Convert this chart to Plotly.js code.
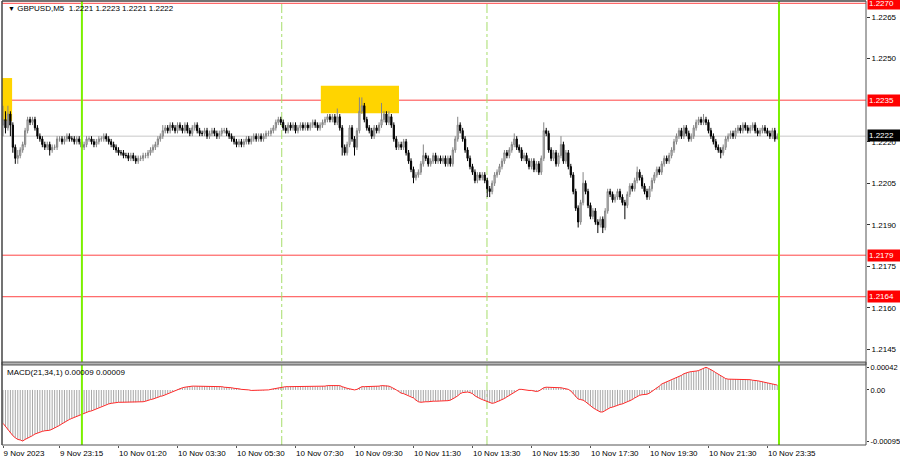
<!DOCTYPE html>
<html>
<head>
<meta charset="utf-8">
<script src="https://cdn.plot.ly/plotly-3.0.1.min.js"></script>
<style>
html,body{margin:0;padding:0;background:#fff;}
#chart{width:900px;height:460px;}
</style>
</head>
<body>
<div id="chart"></div>
<script>
// ---- Candle data (GBPUSD M5) ----
const openP = [1.2226,1.2228,1.2225,1.2230,1.2226,1.2218,1.2214,1.2215,1.2217,1.2219,
1.2224,1.2228,1.2227,1.2228,1.2225,1.2222,1.2221,1.2219,1.2218,1.2219,
1.2217,1.2218,1.2218,1.2221,1.2221,1.2220,1.2221,1.2222,1.2221,1.2221,
1.2220,1.2221,1.2220,1.2218,1.2219,1.2221,1.2221,1.2220,1.2219,1.2220,
1.2221,1.2221,1.2222,1.2221,1.2220,1.2219,1.2218,1.2217,1.2216,1.2216,
1.2215,1.2215,1.2214,1.2215,1.2214,1.2213,1.2214,1.2214,1.2215,1.2215,
1.2216,1.2217,1.2218,1.2219,1.2221,1.2222,1.2224,1.2225,1.2224,1.2226,
1.2225,1.2224,1.2226,1.2225,1.2224,1.2226,1.2224,1.2223,1.2225,1.2226,
1.2224,1.2223,1.2223,1.2224,1.2222,1.2223,1.2224,1.2223,1.2222,1.2223,
1.2224,1.2224,1.2223,1.2222,1.2221,1.2220,1.2219,1.2220,1.2219,1.2220,
1.2221,1.2220,1.2221,1.2222,1.2221,1.2222,1.2221,1.2222,1.2223,1.2223,
1.2224,1.2225,1.2227,1.2228,1.2227,1.2225,1.2224,1.2226,1.2225,1.2226,
1.2224,1.2225,1.2226,1.2225,1.2226,1.2225,1.2226,1.2227,1.2226,1.2225,
1.2226,1.2227,1.2228,1.2229,1.2228,1.2229,1.2227,1.2229,1.2225,1.2218,
1.2216,1.2219,1.2225,1.2221,1.2218,1.2224,1.2231,1.2233,1.2228,1.2225,
1.2224,1.2222,1.2225,1.2224,1.2226,1.2228,1.2230,1.2227,1.2229,1.2226,
1.2221,1.2218,1.2219,1.2218,1.2220,1.2216,1.2213,1.2210,1.2207,1.2208,
1.2209,1.2212,1.2215,1.2214,1.2212,1.2213,1.2215,1.2213,1.2214,1.2213,
1.2214,1.2212,1.2214,1.2212,1.2217,1.2221,1.2226,1.2224,1.2221,1.2217,
1.2214,1.2211,1.2209,1.2206,1.2208,1.2207,1.2208,1.2206,1.2203,1.2202,
1.2205,1.2208,1.2209,1.2211,1.2213,1.2216,1.2215,1.2217,1.2219,1.2221,
1.2218,1.2217,1.2214,1.2215,1.2213,1.2211,1.2213,1.2210,1.2212,1.2209,
1.2214,1.2224,1.2223,1.2217,1.2214,1.2216,1.2212,1.2215,1.2219,1.2213,
1.2216,1.2211,1.2208,1.2202,1.2196,1.2191,1.2198,1.2205,1.2202,1.2197,
1.2193,1.2195,1.2191,1.2190,1.2192,1.2189,1.2195,1.2202,1.2201,1.2199,
1.2200,1.2202,1.2200,1.2198,1.2197,1.2201,1.2204,1.2203,1.2206,1.2209,
1.2207,1.2204,1.2202,1.2200,1.2203,1.2206,1.2208,1.2210,1.2209,1.2212,
1.2214,1.2213,1.2215,1.2217,1.2220,1.2222,1.2224,1.2222,1.2225,1.2223,
1.2221,1.2222,1.2225,1.2227,1.2228,1.2227,1.2228,1.2227,1.2224,1.2222,
1.2220,1.2218,1.2217,1.2216,1.2218,1.2221,1.2222,1.2223,1.2222,1.2224,
1.2225,1.2224,1.2226,1.2225,1.2224,1.2225,1.2226,1.2224,1.2223,1.2224,
1.2225,1.2224,1.2223,1.2222,1.2224,1.2221];

const highP = [1.2233,1.2231,1.2233,1.2231,1.2227,1.2219,1.2217,1.2218,1.2220,1.2225,
1.2229,1.2229,1.2229,1.2229,1.2226,1.2223,1.2222,1.2220,1.2220,1.2220,
1.2219,1.2219,1.2222,1.2222,1.2222,1.2222,1.2223,1.2223,1.2222,1.2222,
1.2222,1.2222,1.2221,1.2220,1.2222,1.2222,1.2222,1.2221,1.2221,1.2222,
1.2222,1.2223,1.2223,1.2222,1.2221,1.2220,1.2219,1.2218,1.2217,1.2217,
1.2216,1.2216,1.2216,1.2216,1.2215,1.2215,1.2215,1.2216,1.2216,1.2217,
1.2218,1.2219,1.2220,1.2222,1.2223,1.2226,1.2226,1.2226,1.2227,1.2227,
1.2226,1.2227,1.2227,1.2226,1.2227,1.2227,1.2225,1.2226,1.2227,1.2227,
1.2225,1.2224,1.2225,1.2225,1.2224,1.2225,1.2225,1.2224,1.2224,1.2225,
1.2225,1.2225,1.2224,1.2223,1.2222,1.2221,1.2221,1.2221,1.2221,1.2222,
1.2222,1.2222,1.2223,1.2223,1.2223,1.2223,1.2223,1.2224,1.2224,1.2225,
1.2226,1.2228,1.2229,1.2229,1.2228,1.2226,1.2227,1.2227,1.2227,1.2227,
1.2226,1.2227,1.2227,1.2227,1.2227,1.2227,1.2228,1.2228,1.2227,1.2227,
1.2228,1.2229,1.2230,1.2230,1.2230,1.2230,1.2232,1.2230,1.2226,1.2219,
1.2220,1.2226,1.2226,1.2222,1.2225,1.2236,1.2236,1.2234,1.2229,1.2226,
1.2225,1.2226,1.2226,1.2227,1.2234,1.2231,1.2231,1.2231,1.2230,1.2227,
1.2222,1.2220,1.2220,1.2221,1.2221,1.2217,1.2214,1.2211,1.2209,1.2210,
1.2213,1.2219,1.2216,1.2215,1.2214,1.2216,1.2216,1.2215,1.2215,1.2215,
1.2215,1.2215,1.2215,1.2218,1.2222,1.2229,1.2227,1.2225,1.2222,1.2218,
1.2215,1.2212,1.2210,1.2209,1.2209,1.2209,1.2209,1.2207,1.2204,1.2206,
1.2209,1.2210,1.2212,1.2214,1.2217,1.2217,1.2218,1.2220,1.2223,1.2222,
1.2219,1.2218,1.2216,1.2216,1.2214,1.2214,1.2214,1.2213,1.2213,1.2215,
1.2227,1.2225,1.2224,1.2218,1.2217,1.2217,1.2216,1.2222,1.2220,1.2217,
1.2217,1.2212,1.2209,1.2203,1.2197,1.2199,1.2209,1.2206,1.2203,1.2198,
1.2196,1.2196,1.2192,1.2193,1.2193,1.2196,1.2203,1.2203,1.2202,1.2201,
1.2203,1.2203,1.2201,1.2199,1.2202,1.2205,1.2205,1.2207,1.2211,1.2210,
1.2208,1.2205,1.2203,1.2204,1.2207,1.2209,1.2211,1.2211,1.2213,1.2215,
1.2215,1.2216,1.2218,1.2221,1.2223,1.2225,1.2225,1.2226,1.2226,1.2224,
1.2223,1.2226,1.2228,1.2229,1.2229,1.2230,1.2229,1.2228,1.2225,1.2223,
1.2221,1.2219,1.2218,1.2219,1.2222,1.2223,1.2224,1.2224,1.2225,1.2226,
1.2226,1.2227,1.2227,1.2226,1.2226,1.2227,1.2227,1.2225,1.2225,1.2226,
1.2226,1.2225,1.2224,1.2225,1.2225,1.2223];

const lowP = [1.2222,1.2223,1.2224,1.2222,1.2216,1.2212,1.2212,1.2214,1.2216,1.2218,
1.2223,1.2226,1.2226,1.2224,1.2221,1.2220,1.2218,1.2217,1.2217,1.2215,
1.2216,1.2217,1.2217,1.2220,1.2219,1.2219,1.2220,1.2220,1.2220,1.2219,
1.2219,1.2219,1.2217,1.2217,1.2218,1.2220,1.2219,1.2218,1.2218,1.2219,
1.2220,1.2220,1.2220,1.2219,1.2218,1.2217,1.2216,1.2215,1.2215,1.2214,
1.2214,1.2213,1.2213,1.2213,1.2212,1.2212,1.2213,1.2213,1.2214,1.2214,
1.2215,1.2216,1.2217,1.2218,1.2220,1.2221,1.2223,1.2223,1.2223,1.2224,
1.2223,1.2223,1.2224,1.2223,1.2223,1.2223,1.2222,1.2222,1.2224,1.2223,
1.2222,1.2222,1.2222,1.2221,1.2221,1.2222,1.2222,1.2221,1.2221,1.2222,
1.2223,1.2222,1.2221,1.2220,1.2219,1.2218,1.2218,1.2218,1.2218,1.2219,
1.2219,1.2219,1.2220,1.2220,1.2220,1.2220,1.2220,1.2221,1.2222,1.2222,
1.2223,1.2224,1.2226,1.2226,1.2224,1.2223,1.2223,1.2224,1.2224,1.2223,
1.2223,1.2224,1.2224,1.2224,1.2224,1.2224,1.2225,1.2225,1.2224,1.2224,
1.2225,1.2226,1.2227,1.2227,1.2227,1.2226,1.2226,1.2224,1.2215,1.2215,
1.2215,1.2218,1.2220,1.2215,1.2217,1.2223,1.2230,1.2227,1.2224,1.2223,
1.2221,1.2221,1.2223,1.2223,1.2225,1.2227,1.2226,1.2226,1.2225,1.2220,
1.2217,1.2217,1.2217,1.2217,1.2215,1.2212,1.2209,1.2205,1.2206,1.2207,
1.2208,1.2211,1.2213,1.2211,1.2211,1.2212,1.2212,1.2212,1.2212,1.2212,
1.2211,1.2211,1.2211,1.2211,1.2216,1.2220,1.2223,1.2220,1.2216,1.2213,
1.2210,1.2208,1.2205,1.2205,1.2206,1.2206,1.2205,1.2200,1.2200,1.2201,
1.2204,1.2207,1.2208,1.2210,1.2212,1.2214,1.2214,1.2216,1.2218,1.2217,
1.2216,1.2213,1.2213,1.2212,1.2210,1.2210,1.2209,1.2209,1.2208,1.2208,
1.2213,1.2222,1.2216,1.2213,1.2213,1.2211,1.2211,1.2214,1.2212,1.2212,
1.2210,1.2207,1.2201,1.2195,1.2189,1.2190,1.2197,1.2201,1.2196,1.2192,
1.2192,1.2190,1.2187,1.2189,1.2187,1.2188,1.2194,1.2200,1.2198,1.2198,
1.2199,1.2199,1.2197,1.2192,1.2196,1.2200,1.2202,1.2202,1.2205,1.2206,
1.2203,1.2201,1.2199,1.2199,1.2202,1.2205,1.2207,1.2208,1.2208,1.2211,
1.2212,1.2212,1.2214,1.2216,1.2219,1.2221,1.2221,1.2221,1.2222,1.2220,
1.2220,1.2221,1.2224,1.2226,1.2226,1.2226,1.2226,1.2223,1.2221,1.2219,
1.2217,1.2216,1.2214,1.2215,1.2217,1.2220,1.2221,1.2221,1.2221,1.2223,
1.2223,1.2223,1.2224,1.2223,1.2223,1.2224,1.2223,1.2222,1.2222,1.2223,
1.2223,1.2222,1.2221,1.2221,1.2220,1.2221];

const closeP = [1.2228,1.2225,1.2230,1.2226,1.2218,1.2214,1.2215,1.2217,1.2219,1.2224,
1.2228,1.2227,1.2228,1.2225,1.2222,1.2221,1.2219,1.2218,1.2219,1.2217,
1.2218,1.2218,1.2221,1.2221,1.2220,1.2221,1.2222,1.2221,1.2221,1.2220,
1.2221,1.2220,1.2218,1.2219,1.2221,1.2221,1.2220,1.2219,1.2220,1.2221,
1.2221,1.2222,1.2221,1.2220,1.2219,1.2218,1.2217,1.2216,1.2216,1.2215,
1.2215,1.2214,1.2215,1.2214,1.2213,1.2214,1.2214,1.2215,1.2215,1.2216,
1.2217,1.2218,1.2219,1.2221,1.2222,1.2224,1.2225,1.2224,1.2226,1.2225,
1.2224,1.2226,1.2225,1.2224,1.2226,1.2224,1.2223,1.2225,1.2226,1.2224,
1.2223,1.2223,1.2224,1.2222,1.2223,1.2224,1.2223,1.2222,1.2223,1.2224,
1.2224,1.2223,1.2222,1.2221,1.2220,1.2219,1.2220,1.2219,1.2220,1.2221,
1.2220,1.2221,1.2222,1.2221,1.2222,1.2221,1.2222,1.2223,1.2223,1.2224,
1.2225,1.2227,1.2228,1.2227,1.2225,1.2224,1.2226,1.2225,1.2226,1.2224,
1.2225,1.2226,1.2225,1.2226,1.2225,1.2226,1.2227,1.2226,1.2225,1.2226,
1.2227,1.2228,1.2229,1.2228,1.2229,1.2227,1.2229,1.2225,1.2218,1.2216,
1.2219,1.2225,1.2221,1.2218,1.2224,1.2231,1.2233,1.2228,1.2225,1.2224,
1.2222,1.2225,1.2224,1.2226,1.2228,1.2230,1.2227,1.2229,1.2226,1.2221,
1.2218,1.2219,1.2218,1.2220,1.2216,1.2213,1.2210,1.2207,1.2208,1.2209,
1.2212,1.2215,1.2214,1.2212,1.2213,1.2215,1.2213,1.2214,1.2213,1.2214,
1.2212,1.2214,1.2212,1.2217,1.2221,1.2226,1.2224,1.2221,1.2217,1.2214,
1.2211,1.2209,1.2206,1.2208,1.2207,1.2208,1.2206,1.2203,1.2202,1.2205,
1.2208,1.2209,1.2211,1.2213,1.2216,1.2215,1.2217,1.2219,1.2221,1.2218,
1.2217,1.2214,1.2215,1.2213,1.2211,1.2213,1.2210,1.2212,1.2209,1.2214,
1.2224,1.2223,1.2217,1.2214,1.2216,1.2212,1.2215,1.2219,1.2213,1.2216,
1.2211,1.2208,1.2202,1.2196,1.2191,1.2198,1.2205,1.2202,1.2197,1.2193,
1.2195,1.2191,1.2190,1.2192,1.2189,1.2195,1.2202,1.2201,1.2199,1.2200,
1.2202,1.2200,1.2198,1.2197,1.2201,1.2204,1.2203,1.2206,1.2209,1.2207,
1.2204,1.2202,1.2200,1.2203,1.2206,1.2208,1.2210,1.2209,1.2212,1.2214,
1.2213,1.2215,1.2217,1.2220,1.2222,1.2224,1.2222,1.2225,1.2223,1.2221,
1.2222,1.2225,1.2227,1.2228,1.2227,1.2228,1.2227,1.2224,1.2222,1.2220,
1.2218,1.2217,1.2216,1.2218,1.2221,1.2222,1.2223,1.2222,1.2224,1.2225,
1.2224,1.2226,1.2225,1.2224,1.2225,1.2226,1.2224,1.2223,1.2224,1.2225,
1.2224,1.2223,1.2222,1.2224,1.2221,1.2222];

// ---- MACD(21,34,1) main line values ----
const macdVals = [-0.00062,-0.00068,-0.00074,-0.00080,-0.00085,-0.00089,-0.00092,-0.00093,-0.00095,-0.00092,
-0.00090,-0.00087,-0.00085,-0.00082,-0.00080,-0.00078,-0.00077,-0.00076,-0.00076,-0.00075,
-0.00073,-0.00071,-0.00068,-0.00066,-0.00063,-0.00060,-0.00058,-0.00055,-0.00053,-0.00051,
-0.00049,-0.00047,-0.00045,-0.00044,-0.00042,-0.00040,-0.00039,-0.00037,-0.00035,-0.00033,
-0.00031,-0.00029,-0.00027,-0.00026,-0.00025,-0.00024,-0.00023,-0.00023,-0.00023,-0.00023,
-0.00023,-0.00023,-0.00023,-0.00023,-0.00023,-0.00022,-0.00022,-0.00022,-0.00021,-0.00019,
-0.00018,-0.00017,-0.00015,-0.00014,-0.00012,-0.00011,-0.00009,-0.00007,-0.00005,-0.00003,
-0.00001,0.00001,0.00003,0.00004,0.00005,0.00006,0.00006,0.00007,0.00007,0.00007,
0.00007,0.00007,0.00007,0.00007,0.00007,0.00006,0.00006,0.00006,0.00006,0.00006,
0.00005,0.00005,0.00004,0.00004,0.00003,0.00003,0.00002,0.00001,0.00001,0.00000,
0.00000,-0.00001,-0.00001,-0.00001,-0.00001,-0.00001,-0.00001,0.00000,0.00000,0.00001,
0.00002,0.00003,0.00004,0.00005,0.00005,0.00006,0.00006,0.00006,0.00006,0.00007,
0.00007,0.00007,0.00007,0.00006,0.00007,0.00006,0.00006,0.00006,0.00006,0.00006,
0.00007,0.00007,0.00008,0.00008,0.00009,0.00009,0.00008,0.00008,0.00006,0.00004,
0.00003,0.00002,0.00001,0.00000,0.00001,0.00004,0.00006,0.00006,0.00006,0.00006,
0.00006,0.00007,0.00007,0.00007,0.00008,0.00008,0.00008,0.00007,0.00005,0.00003,
0.00000,-0.00003,-0.00006,-0.00007,-0.00009,-0.00010,-0.00012,-0.00015,-0.00019,-0.00022,
-0.00023,-0.00022,-0.00022,-0.00022,-0.00021,-0.00021,-0.00021,-0.00021,-0.00020,-0.00020,
-0.00020,-0.00020,-0.00019,-0.00017,-0.00014,-0.00011,-0.00007,-0.00005,-0.00004,-0.00004,
-0.00005,-0.00007,-0.00011,-0.00014,-0.00016,-0.00018,-0.00020,-0.00022,-0.00024,-0.00025,
-0.00024,-0.00022,-0.00021,-0.00018,-0.00016,-0.00013,-0.00010,-0.00007,-0.00004,-0.00001,
0.00001,0.00001,0.00000,0.00000,-0.00001,-0.00001,-0.00002,-0.00003,-0.00002,0.00001,
0.00004,0.00005,0.00005,0.00004,0.00004,0.00004,0.00004,0.00004,0.00003,0.00002,
0.00001,-0.00002,-0.00007,-0.00013,-0.00017,-0.00018,-0.00019,-0.00022,-0.00026,-0.00030,
-0.00033,-0.00036,-0.00039,-0.00041,-0.00041,-0.00038,-0.00035,-0.00033,-0.00032,-0.00030,
-0.00028,-0.00027,-0.00026,-0.00024,-0.00022,-0.00021,-0.00018,-0.00015,-0.00012,-0.00010,
-0.00009,-0.00009,-0.00008,-0.00006,-0.00003,0.00000,0.00004,0.00007,0.00011,0.00013,
0.00015,0.00016,0.00018,0.00020,0.00022,0.00025,0.00027,0.00030,0.00032,0.00033,
0.00034,0.00034,0.00035,0.00036,0.00038,0.00040,0.00042,0.00040,0.00038,0.00035,
0.00032,0.00029,0.00026,0.00023,0.00021,0.00020,0.00020,0.00020,0.00020,0.00020,
0.00020,0.00020,0.00020,0.00019,0.00019,0.00018,0.00018,0.00017,0.00016,0.00015,
0.00014,0.00013,0.00012,0.00011,0.00010,0.00009];

// ---- Time axis labels (bar index where each label sits) ----
const timeLabels = ["9 Nov 2023","9 Nov 23:15","10 Nov 01:20","10 Nov 03:30","10 Nov 05:30","10 Nov 07:30","10 Nov 09:30","10 Nov 11:30","10 Nov 13:30","10 Nov 15:30","10 Nov 17:30","10 Nov 19:30","10 Nov 21:30","10 Nov 23:35"];
const timeLabelBars = [0,23,47,71,95,119,143,167,191,215,239,263,287,311];

// ---- Price scale ticks (1.2235 sits under its red level label) ----
const priceTicks = [1.2145,1.2160,1.2175,1.2190,1.2205,1.2220,1.2250,1.2265];
const macdTicks = [0.00042,0.00,-0.00095];
const macdTickText = ["0.00042","0.00","-0.00095"];

// ---- Levels & objects ----
const redLevels = [1.2270,1.2235,1.2179,1.2164];
const bidPrice = 1.2222;
const dayLineBars = [32.1,315.7];        // bright green day separators
const sessionLineBars = [113.4,196.9];   // light dash-dot separators
const zoneX0 = [-0.5,129.3];
const zoneX1 = [3.7,161.1];
const zoneLow = [1.22275,1.22303];
const zoneHigh = [1.22430,1.22402];
const headerText = "GBPUSD,M5  1.2221 1.2223 1.2221 1.2222";
const macdText = "MACD(21,34,1) 0.00009 0.00009";

const barIdx = closeP.map((_, i) => i);

const FONT = '"Liberation Sans", Arial, sans-serif';

const candle = {
  type: 'candlestick',
  x: barIdx, open: openP, high: highP, low: lowP, close: closeP,
  xaxis: 'x', yaxis: 'y',
  increasing: {line: {color: '#858585', width: 1}, fillcolor: '#d2d2d2'},
  decreasing: {line: {color: '#000000', width: 1}, fillcolor: '#000000'},
  whiskerwidth: 0,
  hoverinfo: 'skip', showlegend: false
};
const hist = {
  type: 'bar', x: barIdx, y: macdVals, xaxis: 'x', yaxis: 'y2',
  width: 0.42, marker: {color: '#a9a9a9', line: {width: 0}},
  hoverinfo: 'skip', showlegend: false
};
const sig = {
  type: 'scatter', mode: 'lines', x: barIdx, y: macdVals, xaxis: 'x', yaxis: 'y2',
  line: {color: '#ff2a2a', width: 1}, hoverinfo: 'skip', showlegend: false
};

const mainBottom = 0.1869, macdTop = 0.1802;

const shapes = [];
for (let k = 0; k < zoneX0.length; k++) {
  shapes.push({type:'rect', xref:'x', yref:'y', x0: zoneX0[k], x1: zoneX1[k], y0: zoneLow[k], y1: zoneHigh[k],
    fillcolor:'#ffd400', line:{width:0}, layer:'below'});
}
shapes.push({type:'line', xref:'paper', yref:'y', x0:0, x1:1, y0: bidPrice, y1: bidPrice,
  line:{color:'#c8c8c8', width:1}, layer:'below'});
redLevels.forEach(v => shapes.push({type:'line', xref:'paper', yref:'y', x0:0, x1:1, y0:v, y1:v,
  line:{color:'#ff4444', width:1}, layer:'below'}));
sessionLineBars.forEach(v => shapes.push({type:'line', xref:'x', yref:'paper', x0:v, x1:v, y0:0, y1:1,
  line:{color:'#a6dd6a', width:1, dash:'dashdot'}, layer:'below'}));
dayLineBars.forEach(v => shapes.push({type:'line', xref:'x', yref:'paper', x0:v, x1:v, y0:0, y1:1,
  line:{color:'#7cf000', width:2}, layer:'above'}));
// frame and panel separator
shapes.push({type:'rect', xref:'paper', yref:'paper', x0:0, x1:1, y0:macdTop, y1:mainBottom,
  fillcolor:'#b4b4b4', line:{color:'#555555', width:1}, layer:'above'});
shapes.push({type:'line', xref:'paper', yref:'paper', x0:0, x1:1, y0:1, y1:1, line:{color:'#444', width:1.5}});
shapes.push({type:'line', xref:'paper', yref:'paper', x0:0, x1:0, y0:0, y1:1, line:{color:'#444', width:1.5}});
shapes.push({type:'line', xref:'paper', yref:'paper', x0:1, x1:1, y0:0, y1:1, line:{color:'#555', width:1}});
shapes.push({type:'line', xref:'paper', yref:'paper', x0:0, x1:1, y0:0, y1:0, line:{color:'#555', width:1}});

const annotations = [];
annotations.push({xref:'paper', yref:'paper', x:0, y:1, xanchor:'left', yanchor:'top', xshift:4, yshift:-1,
  text:'<span style="font-size:7px">▼</span> ' + headerText, showarrow:false, font:{family:FONT, size:8, color:'#000'}});
annotations.push({xref:'paper', yref:'paper', x:0, y:macdTop, xanchor:'left', yanchor:'top', xshift:3, yshift:-1,
  text: macdText, showarrow:false, font:{family:FONT, size:8, color:'#000'}});
redLevels.forEach(v => annotations.push({xref:'paper', yref:'y', x:1, y:v, xanchor:'left', yanchor:'middle',
  text: v.toFixed(4), showarrow:false, bgcolor:'#ff0000', borderpad:1, width:31, height:9, align:'left', xshift:1,
  font:{family:FONT, size:8, color:'#ffffff'}}));
annotations.push({xref:'paper', yref:'y', x:1, y:bidPrice, xanchor:'left', yanchor:'middle',
  text: bidPrice.toFixed(4), showarrow:false, bgcolor:'#000000', borderpad:1, width:31, height:9, align:'left', xshift:1, yshift:1,
  font:{family:FONT, size:8, color:'#ffffff'}});

const layout = {
  width: 900, height: 460,
  margin: {l: 2, r: 34, t: 1, b: 15, pad: 0},
  paper_bgcolor: '#ffffff', plot_bgcolor: '#ffffff',
  showlegend: false, hovermode: false,
  xaxis: {
    domain: [0, 1], anchor: 'y2', range: [-0.41, 351.1],
    showgrid: false, zeroline: false, showline: false,
    tickmode: 'array', tickvals: timeLabelBars, ticktext: timeLabels,
    ticks: 'outside', ticklen: 2, tickcolor: '#555',
    ticklabelposition: 'outside right',
    tickfont: {family: FONT, size: 8, color: '#000'},
    rangeslider: {visible: false}, fixedrange: true
  },
  yaxis: {
    domain: [mainBottom, 1], anchor: 'x', side: 'right',
    range: [1.214041, 1.227083],
    showgrid: false, zeroline: false, showline: false,
    tickmode: 'array', tickvals: priceTicks, tickformat: '.4f',
    ticks: 'outside', ticklen: 3, tickcolor: '#333',
    tickfont: {family: FONT, size: 8, color: '#000'}, fixedrange: true
  },
  yaxis2: {
    domain: [0, macdTop], anchor: 'x', side: 'right',
    range: [-0.001024, 0.000463],
    showgrid: false, zeroline: false, showline: false,
    tickmode: 'array', tickvals: macdTicks, ticktext: macdTickText,
    ticks: 'outside', ticklen: 2, tickcolor: '#333',
    tickfont: {family: FONT, size: 7.5, color: '#000'}, fixedrange: true
  },
  shapes: shapes,
  annotations: annotations
};

Plotly.newPlot('chart', [candle, hist, sig], layout, {staticPlot: true, displayModeBar: false});
</script>
</body>
</html>
